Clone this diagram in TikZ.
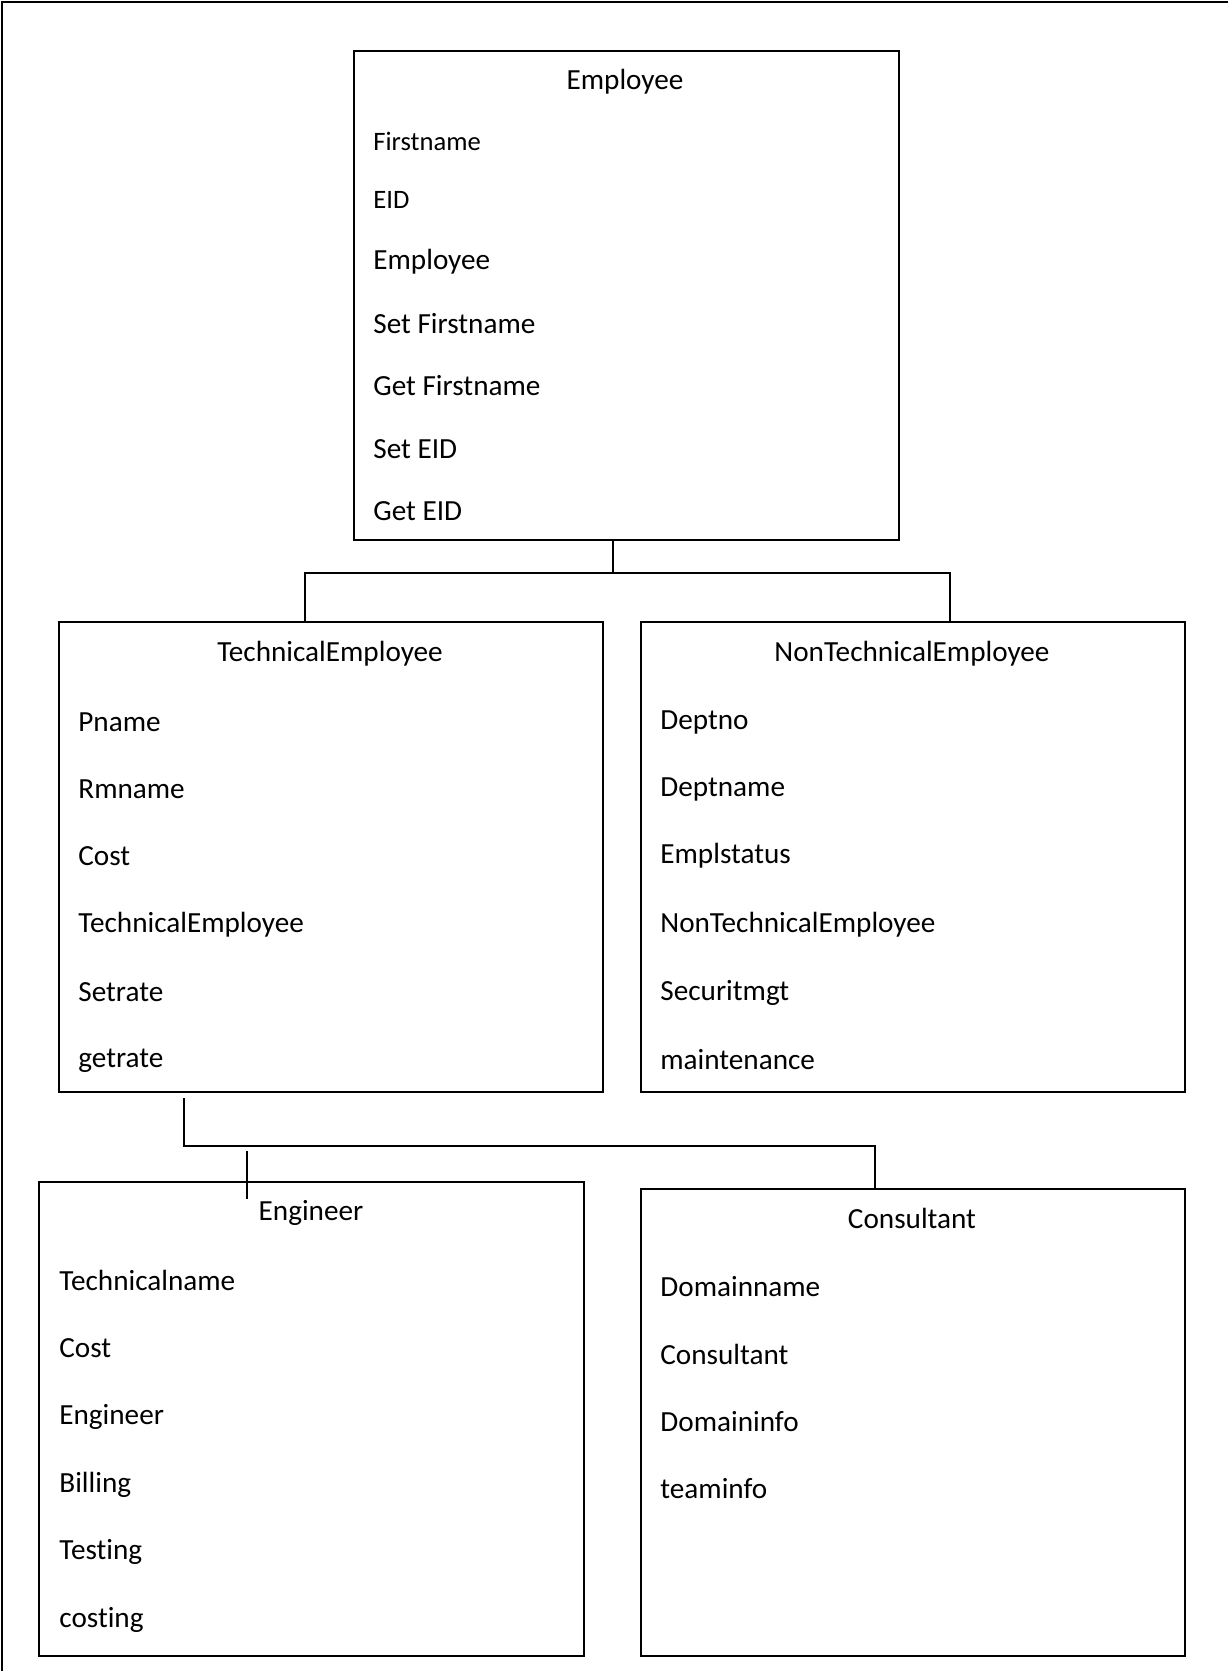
\documentclass[tikz,border=0pt]{standalone}
\usepackage{fontspec}
\setmainfont[Ligatures=NoCommon]{Carlito}
\usetikzlibrary{positioning}

\begin{document}
\begin{tikzpicture}[x=0.5pt,y=-0.5pt,
    classbox/.style={rectangle,draw,line width=1pt,anchor=north west,inner sep=0pt},
    cname/.style={font=\fontsize{14.6}{17}\selectfont,inner sep=0pt},
    attr/.style={font=\fontsize{14.6}{17}\selectfont,anchor=west,inner sep=0pt},
    sattr/.style={font=\fontsize{13.3}{16}\selectfont,anchor=west,inner sep=0pt},
    link/.style={line width=1pt}]
  \useasboundingbox (0,0) rectangle (1228,1671);
  % page frame
  \draw[line width=1.3pt] (2,1671) -- (2,2) -- (1228,2);

  % Employee
  \node[classbox,minimum width=272.5pt,minimum height=244.5pt] (emp) at (353,50) {};
  \node[cname] (emptitle) at (625,82) {Employee};
  \node[sattr] (emp1) at (373,141) {Firstname};
  \node[sattr] (emp2) at (373,200) {EID};
  \node[attr] (emp3) at (373,262) {Employee};
  \node[attr] (emp4) at (373,324) {Set Firstname};
  \node[attr] (emp5) at (373,386) {Get Firstname};
  \node[attr] (emp6) at (373,449) {Set EID};
  \node[attr] (emp7) at (373,511) {Get EID};

  % TechnicalEmployee
  \node[classbox,minimum width=272pt,minimum height=235pt] (tech) at (58,621) {};
  \node[cname] (techtitle) at (330,654) {TechnicalEmployee};
  \node[attr] (tech1) at (78,722) {Pname};
  \node[attr] (tech2) at (78,789) {Rmname};
  \node[attr] (tech3) at (78,856) {Cost};
  \node[attr] (tech4) at (78,925) {TechnicalEmployee};
  \node[attr] (tech5) at (78,992) {Setrate};
  \node[attr] (tech6) at (78,1061) {getrate};

  % NonTechnicalEmployee
  \node[classbox,minimum width=272pt,minimum height=235pt] (nontech) at (640,621) {};
  \node[cname] (nontechtitle) at (912,654) {NonTechnicalEmployee};
  \node[attr] (nontech1) at (660,722) {Deptno};
  \node[attr] (nontech2) at (660,789) {Deptname};
  \node[attr] (nontech3) at (660,856) {Emplstatus};
  \node[attr] (nontech4) at (660,925) {NonTechnicalEmployee};
  \node[attr] (nontech5) at (660,993) {Securitmgt};
  \node[attr] (nontech6) at (660,1060) {maintenance};

  % Engineer
  \node[classbox,minimum width=272.5pt,minimum height=237pt] (eng) at (38,1181) {};
  \node[cname] (engtitle) at (311,1213) {Engineer};
  \node[attr] (eng1) at (59,1280) {Technicalname};
  \node[attr] (eng2) at (59,1348) {Cost};
  \node[attr] (eng3) at (59,1417) {Engineer};
  \node[attr] (eng4) at (59,1485) {Billing};
  \node[attr] (eng5) at (59,1552) {Testing};
  \node[attr] (eng6) at (59,1620) {costing};

  % Consultant
  \node[classbox,minimum width=272pt,minimum height=233.5pt] (cons) at (640,1188) {};
  \node[cname] (constitle) at (912,1218) {Consultant};
  \node[attr] (cons1) at (660,1287) {Domainname};
  \node[attr] (cons2) at (660,1354) {Consultant};
  \node[attr] (cons3) at (660,1422) {Domaininfo};
  \node[attr] (cons4) at (660,1489) {teaminfo};

  % connectors
  \coordinate (empstem) at (613,573);
  \coordinate (jl) at (305,573);
  \coordinate (jr) at (950,573);
  \draw[link] (empstem |- emp.south) -- (empstem);
  \draw[link] (jl |- tech.north) -- (jl) -- (jr) -- (jr |- nontech.north);

  \coordinate (techstem) at (184,1098);
  \coordinate (tb) at (184,1146);
  \coordinate (tr) at (875,1146);
  \draw[link] (techstem) -- (tb) -- (tr) -- (tr |- cons.north);
  \coordinate (engtick) at (247,1151);
  \draw[link] (engtick) -- (engtick |- eng.north) -- ++(0,18);
\end{tikzpicture}
\end{document}
